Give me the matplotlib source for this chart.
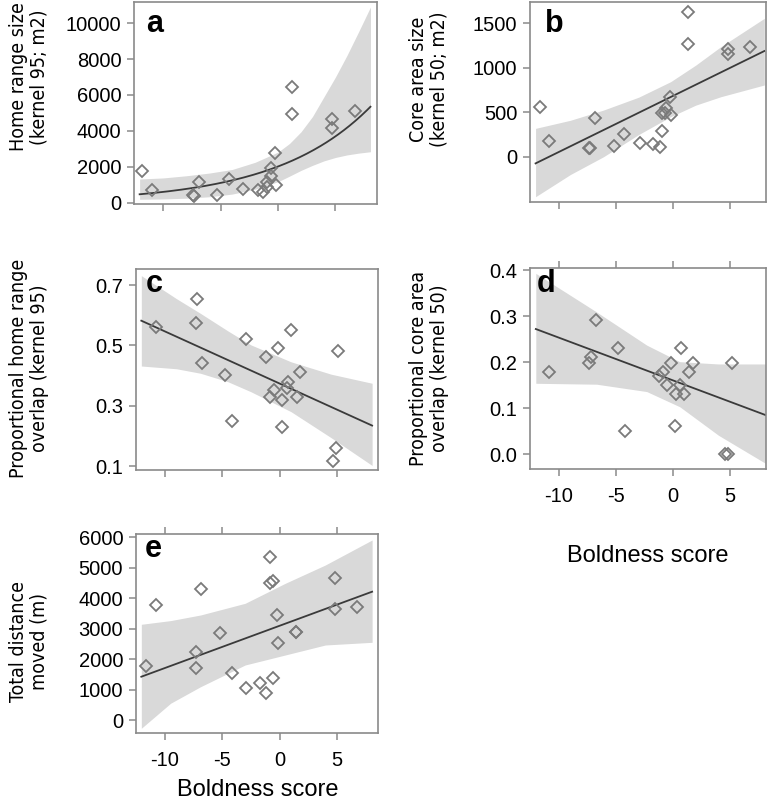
import numpy as np
import matplotlib
matplotlib.use("Agg")
import matplotlib.pyplot as plt

# ---------------- data ----------------
a_x = [-11.83, -10.96, -7.38, -7.30, -6.89, -5.29, -4.27, -3.02, -1.76, -1.31, -0.98,
       -0.93, -0.64, -0.64, -0.20, -0.29, 1.25, 1.25, 4.74, 4.74, 6.74]
a_y = [1780, 710, 430, 380, 1140, 430, 1320, 760, 710, 580, 1140,
       890, 1490, 1920, 990, 2750, 6460, 4920, 4650, 4140, 5110]
a_curve_logint = 7.61     # log-linear fit: y = exp(int + slope * x)
a_curve_slope = 0.121
a_fit_range = [-12.06, 8.05]
a_band_x = [-12.06, -10, -8, -6, -4, -2, 0, 1, 2, 3, 4, 5, 6, 7, 8.05]
a_band_lo = [190, 210, 250, 330, 480, 750, 1170, 1480, 1800, 2080, 2330, 2520, 2660, 2760, 2840]
a_band_hi = [1320, 1380, 1500, 1650, 1850, 2250, 2820, 3300, 3950, 4800, 5900, 7000, 8200, 9500, 10900]

b_x = [-11.68, -10.86, -6.88, -7.38, -7.28, -5.15, -4.26, -2.91, -1.76, -1.17, -0.94,
       -0.94, -0.65, -0.58, -0.20, -0.29, 1.36, 1.36, 4.80, 4.80, 6.80]
b_y = [563, 180, 432, 101, 101, 124, 255, 158, 139, 113, 289,
       495, 495, 544, 469, 668, 1631, 1264, 1208, 1152, 1238]
b_fit_x = [-12.06, 8.03]
b_fit_y = [-75, 1189]
b_band_x = [-12.06, -9, -6.09, -3, -0.20, 2, 4.21, 8.03]
b_band_lo = [-450, -200, 0, 250, 450, 580, 675, 807]
b_band_hi = [319, 410, 525, 670, 844, 1030, 1238, 1557]

c_x = [-10.81, -7.18, -7.32, -6.74, -4.79, -2.90, -4.12, -1.16, -0.11, 1.00, 1.78,
       0.76, 0.61, -0.49, -0.84, 0.24, 1.50, 0.24, 5.12, 4.94, 4.65]
c_y = [0.562, 0.653, 0.573, 0.441, 0.402, 0.521, 0.251, 0.463, 0.493, 0.552, 0.411,
       0.380, 0.358, 0.353, 0.331, 0.320, 0.331, 0.230, 0.483, 0.160, 0.118]
c_fit_x = [-12.06, 8.08]
c_fit_y = [0.582, 0.235]
c_band_x = [-12.06, -9, -6.89, -4.5, -2.5, 1.0, 4.5, 8.08]
c_band_lo = [0.432, 0.423, 0.408, 0.380, 0.347, 0.281, 0.195, 0.103]
c_band_hi = [0.731, 0.655, 0.606, 0.548, 0.502, 0.446, 0.405, 0.375]

d_x = [-10.88, -6.78, -7.19, -7.37, -4.80, -4.21, -1.23, -0.85, -0.18, -0.55, 0.24,
       0.61, 0.99, 0.67, 1.40, 1.78, 0.18, 5.18, 4.56, 4.85]
d_y = [0.179, 0.291, 0.212, 0.199, 0.231, 0.050, 0.170, 0.179, 0.199, 0.150, 0.130,
       0.150, 0.130, 0.231, 0.179, 0.199, 0.061, 0.199, 0.0, 0.0]
d_fit_x = [-12.04, 8.13]
d_fit_y = [0.272, 0.085]
d_band_x = [-12.04, -6.7, -2.3, 0.6, 4.0, 8.13]
d_band_lo = [0.154, 0.152, 0.136, 0.103, 0.041, -0.02]
d_band_hi = [0.393, 0.309, 0.237, 0.201, 0.196, 0.196]

e_x = [-11.68, -10.75, -6.83, -7.27, -7.33, -5.21, -4.19, -2.90, -1.72, -1.22, -0.58,
       -0.87, -0.84, -0.55, -0.20, -0.15, 1.46, 1.46, 4.88, 4.88, 6.77]
e_y = [1771, 3772, 4287, 2220, 1695, 2843, 1552, 1061, 1225, 875, 1389,
       5336, 4483, 4559, 3444, 2516, 2896, 2896, 4648, 3641, 3716]
e_fit_x = [-12.06, 8.08]
e_fit_y = [1420, 4208]
e_band_x = [-12.06, -9.5, -6.89, -3.0, 0.5, 4.0, 8.08]
e_band_lo = [-272, 550, 1092, 1804, 2132, 2460, 2548]
e_band_hi = [3139, 3260, 3444, 3827, 4483, 5084, 5904]

x_ticks = [-10, -5, 0, 5]
a_yticks = [0, 2000, 4000, 6000, 8000, 10000]
b_yticks = [0, 500, 1000, 1500]
c_yticks = [0.1, 0.3, 0.5, 0.7]
d_yticks = [0.0, 0.1, 0.2, 0.3, 0.4]
e_yticks = [0, 1000, 2000, 3000, 4000, 5000, 6000]

labels = {
    "a": "Home range size\n(kernel 95; m2)",
    "b": "Core area size\n(kernel 50; m2)",
    "c": "Proportional home range\noverlap (kernel 95)",
    "d": "Proportional core area\noverlap (kernel 50)",
    "e": "Total distance\nmoved (m)",
}
xlabel = "Boldness score"

# ---------------- styling ----------------
W, H = 774, 807
plt.rcParams['font.family'] = ['Liberation Sans', 'DejaVu Sans']
FRAME = '#8a8a8a'
BAND = '#d9d9d9'
LINE = '#3a3a3a'
PT = '#7a7a7a'
TICKFS = 14.5

fig = plt.figure(figsize=(W / 100, H / 100), dpi=100)


def add_ax(l, t, r, b):
    return fig.add_axes([l / W, 1 - b / H, (r - l) / W, (b - t) / H])


def style(ax, xlim, ylim, yticks, yfmt, xlabels, toptick):
    ax.set_xlim(*xlim)
    ax.set_ylim(*ylim)
    for s in ax.spines.values():
        s.set_color(FRAME)
        s.set_linewidth(1.2)
    ax.set_xticks(x_ticks)
    ax.set_yticks(yticks)
    ax.set_yticklabels([yfmt(v) for v in yticks])
    if xlabels:
        ax.set_xticklabels([str(v) for v in x_ticks])
    else:
        ax.set_xticklabels([])
    ax.tick_params(axis='both', direction='out', length=5, width=1.1, color=FRAME,
                   labelsize=TICKFS, labelcolor='black')
    ax.tick_params(axis='y', pad=4)
    ax.tick_params(axis='x', pad=8, top=toptick)
    ax.set_facecolor('white')


def scatter(ax, x, y):
    ax.plot(x, y, linestyle='none', marker='D', ms=5.8, mfc='none', mec=PT,
            mew=1.3, zorder=3)


left_xlim = (-12.55, 8.62)
right_xlim = (-12.55, 8.15)

# panel a
ax = add_ax(134, 2, 377, 204)
ax.fill_between(a_band_x, a_band_lo, a_band_hi, color=BAND, lw=0, zorder=1)
xx = np.linspace(a_fit_range[0], a_fit_range[1], 200)
ax.plot(xx, np.exp(a_curve_logint + a_curve_slope * xx), color=LINE, lw=1.3, zorder=2)
scatter(ax, a_x, a_y)
style(ax, left_xlim, (-72, 11180), a_yticks, lambda v: f"{v:d}", False, False)

# panel b
ax = add_ax(530, 1.7, 765.7, 201.7)
ax.fill_between(b_band_x, b_band_lo, b_band_hi, color=BAND, lw=0, zorder=1)
ax.plot(b_fit_x, b_fit_y, color=LINE, lw=1.3, zorder=2)
scatter(ax, b_x, b_y)
style(ax, right_xlim, (-506, 1744), b_yticks, lambda v: f"{v:d}", False, False)

# panel c
ax = add_ax(135.7, 269, 378.3, 470)
ax.fill_between(c_band_x, c_band_lo, c_band_hi, color=BAND, lw=0, zorder=1)
ax.plot(c_fit_x, c_fit_y, color=LINE, lw=1.3, zorder=2)
scatter(ax, c_x, c_y)
style(ax, left_xlim, (0.088, 0.753), c_yticks, lambda v: f"{v:.1f}", False, False)

# panel d
ax = add_ax(530, 268.3, 765.7, 469.3)
ax.fill_between(d_band_x, d_band_lo, d_band_hi, color=BAND, lw=0, zorder=1)
ax.plot(d_fit_x, d_fit_y, color=LINE, lw=1.3, zorder=2)
scatter(ax, d_x, d_y)
style(ax, right_xlim, (-0.033, 0.404), d_yticks, lambda v: f"{v:.1f}", True, True)

# panel e
ax = add_ax(135.7, 534, 378.3, 733.3)
ax.fill_between(e_band_x, e_band_lo, e_band_hi, color=BAND, lw=0, zorder=1)
ax.plot(e_fit_x, e_fit_y, color=LINE, lw=1.3, zorder=2)
scatter(ax, e_x, e_y)
style(ax, left_xlim, (-436, 6100), e_yticks, lambda v: f"{v:d}", True, True)

# panel letters
for letter, (px, py) in {"a": (146, 31.5), "b": (545, 31.5), "c": (145.7, 292.3),
                         "d": (536.7, 291.7), "e": (145, 556.7)}.items():
    fig.text(px / W, 1 - py / H, letter, fontsize=22, fontweight='bold',
             ha='left', va='baseline')

# y labels
for key, (px, py) in {"a": (29, 77), "b": (429, 79), "c": (29, 368), "d": (429, 368),
                      "e": (29, 642)}.items():
    fig.text(px / W, 1 - py / H, labels[key], rotation=90, ha='center', va='center',
             multialignment='center', fontsize=14, linespacing=1.1,
             family='DejaVu Sans', stretch='condensed')

# x labels
fig.text(648 / W, 1 - 556 / H, xlabel, ha='center', va='center', fontsize=17)
fig.text(258 / W, 1 - 790 / H, xlabel, ha='center', va='center', fontsize=17)

fig.savefig("out.png", dpi=100, facecolor='white')
